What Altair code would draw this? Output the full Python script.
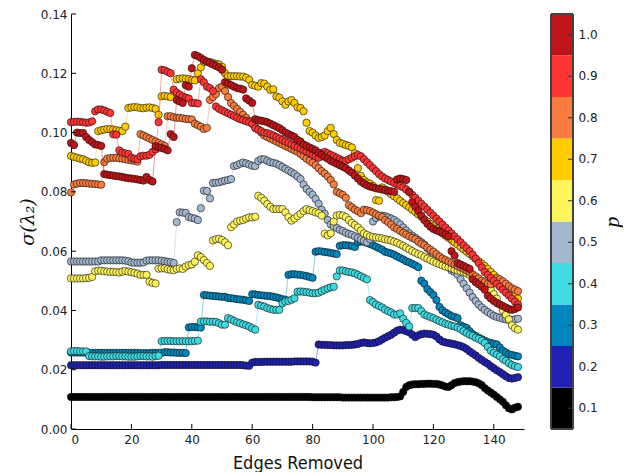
import altair as alt
import pandas as pd

# ---------------- data (values in units of 1e-4) ----------------
P_LABELS = ["0.1", "0.2", "0.3", "0.4", "0.5", "0.6", "0.7", "0.8", "0.9", "1.0"]
COLORS = ["#000000", "#2121b3", "#0087bd", "#3fdbe3", "#a3b7cf",
          "#fff45c", "#ffcc00", "#f77c3d", "#ff3535", "#bf1418"]

S01 = [108, 108, 108, 108, 108, 108, 108, 108, 108, 108,
       108, 108, 108, 108, 108, 108, 108, 108, 108, 108,
       108, 108, 108, 108, 108, 108, 108, 108, 108, 108,
       108, 108, 108, 108, 108, 108, 108, 108, 108, 108,
       108, 108, 108, 108, 108, 108, 108, 108, 108, 108,
       108, 108, 108, 108, 108, 108, 108, 108, 108, 108,
       108, 108, 108, 108, 108, 108, 108, 108, 108, 108,
       108, 108, 108, 108, 108, 108, 108, 108, 108, 108,
       107, 107, 107, 107, 107, 107, 107, 107, 107, 107,
       106, 106, 106, 106, 106, 106, 106, 106, 106, 106,
       106, 106, 106, 106, 106, 106, 107, 107, 108, 110,
       125, 142, 148, 150, 151, 151, 152, 152, 153, 153,
       152, 152, 150, 147, 143, 142, 148, 155, 158, 160,
       161, 161, 161, 160, 158, 154, 148, 138, 130, 123,
       116, 108, 100, 92, 80, 70, 66, 72, 75]

S02 = [215, 215, 215, 215, 215, 215, 215, 215, 215, 215,
       215, 215, 215, 215, 215, 215, 215, 215, 215, 215,
       215, 215, 215, 215, 215, 215, 215, 215, 215, 215,
       216, 216, 216, 216, 216, 216, 216, 216, 216, 216,
       216, 216, 216, 216, 216, 216, 216, 216, 216, 216,
       216, 216, 216, 216, 216, 216, 216, 215, 214, 213,
       224, 226, 226, 226, 227, 227, 227, 227, 227, 227,
       227, 227, 227, 227, 228, 228, 228, 228, 228, 228,
       227, 224, 285, 284, 284, 283, 283, 282, 282, 282,
       282, 283, 283, 284, 285, 287, 290, 292, 290, 289,
       290, 292, 296, 302, 308, 313, 318, 325, 332, 335,
       334, 330, 326, 318, 310, 316, 320, 322, 321, 320,
       318, 312, 302, 295, 292, 290, 288, 286, 283, 280,
       276, 270, 262, 255, 248, 240, 233, 226, 220, 212,
       205, 198, 192, 185, 178, 172, 170, 172, 175]

S03 = [258, 258, 258, 258, 258, 258, 257, 257, 257, 257,
       257, 257, 257, 257, 257, 257, 257, 257, 257, 257,
       257, 257, 257, 256, 256, 256, 256, 257, 257, 257,
       257, 259, 259, 258, 258, 257, 257, 257, 256, 343,
       344, 344, 343, 342, 452, 451, 450, 449, 448, 447,
       446, 446, 442, 441, 440, 438, 437, 436, 434, 432,
       455, 454, 452, 451, 450, 449, 448, 446, 444, 441,
       438, 436, 520, 522, 522, 521, 520, 518, 516, 513,
       510, 598, 600, 599, 597, 596, 594, 592, 590, 618,
       620, 620, 619, 617, 614, 630, 632, 632, 628, 624,
       620, 615, 610, 605, 598, 595, 592, 588, 582, 577,
       572, 566, 562, 557, 552, 546, 500, 490, 472, 462,
       452, 435, 412, 400, 393, 387, 381, 378, 374, 350,
       345, 341, 330, 320, 314, 308, 303, 298, 293, 290,
       288, 285, 275, 264, 258, 252, 250, 247, 245]

S04 = [262, 263, 263, 262, 262, 262, 246, 245, 245, 245,
       244, 244, 245, 245, 245, 246, 246, 245, 245, 244,
       244, 244, 245, 246, 246, 245, 245, 244, 246, 247,
       296, 297, 297, 297, 296, 296, 296, 296, 296, 296,
       296, 297, 298, 362, 363, 363, 362, 362, 361, 357,
       352, 352, 374, 370, 365, 360, 357, 353, 350, 346,
       340, 335, 419, 416, 413, 408, 405, 402, 402, 402,
       424, 430, 432, 436, 441, 463, 464, 463, 462, 460,
       458, 458, 460, 465, 470, 474, 478, 480, 515, 535,
       535, 532, 530, 528, 525, 520, 515, 510, 505, 435,
       428, 420, 415, 410, 403, 398, 393, 386, 386, 390,
       372, 358, 346, 408, 408, 408, 398, 386, 382, 378,
       374, 369, 364, 360, 355, 352, 348, 346, 342, 337,
       330, 324, 318, 314, 308, 304, 298, 290, 277, 264,
       257, 251, 245, 236, 230, 222, 216, 212, 209]

S05 = [565, 565, 565, 565, 565, 565, 565, 565, 565, 565,
       569, 569, 569, 569, 569, 569, 569, 569, 568, 566,
       562, 561, 561, 561, 562, 568, 569, 569, 569, 569,
       568, 566, 564, 563, 560, 698, 731, 730, 729, 715,
       712, 710, 705, 745, 804, 803, 778, 830, 831, 832,
       835, 838, 840, 843, 887, 890, 895, 899, 896, 892,
       888, 887, 904, 910, 910, 905, 900, 898, 895, 890,
       884, 878, 872, 866, 860, 852, 843, 825, 810, 800,
       790, 776, 760, 740, 726, 705, 690, 685, 678, 672,
       668, 662, 658, 655, 650, 645, 640, 635, 630, 640,
       700, 712, 718, 720, 718, 714, 710, 705, 698, 690,
       680, 670, 660, 652, 645, 638, 630, 622, 610, 600,
       590, 580, 575, 565, 555, 545, 535, 530, 520, 505,
       490, 475, 460, 445, 432, 420, 410, 402, 395, 388,
       382, 378, 375, 372, 370, 368, 368, 370, 372]

S06 = [508, 508, 508, 508, 508, 509, 510, 513, 532, 534,
       534, 532, 531, 530, 530, 529, 528, 531, 533, 531,
       529, 527, 524, 520, 520, 520, 497, 493, 491, 541,
       542, 542, 539, 537, 536, 540, 542, 540, 548, 553,
       555, 564, 586, 580, 570, 560, 550, 636, 640, 642,
       638, 630, 620, 681, 690, 700, 703, 705, 710, 714,
       714, 716, 787, 780, 770, 759, 750, 742, 742, 742,
       742, 731, 715, 703, 710, 718, 726, 735, 742, 738,
       735, 731, 728, 720, 659, 653, 660, 700, 720, 722,
       720, 715, 705, 695, 688, 680, 670, 660, 655, 650,
       648, 646, 645, 643, 640, 638, 636, 632, 628, 623,
       618, 612, 606, 600, 595, 590, 586, 580, 575, 570,
       565, 560, 556, 552, 548, 545, 542, 538, 535, 532,
       530, 525, 520, 515, 508, 500, 492, 486, 480, 470,
       455, 440, 420, 400, 385, 370, 350, 340, 335]

S07 = [921, 918, 915, 912, 910, 905, 900, 898, 899, 1005,
       1008, 1010, 1012, 1012, 1010, 1008, 1006, 1005, 1020, 1083,
       1085, 1086, 1085, 1083, 1082, 1084, 1085, 1083, 1080, 1060,
       1122, 1124, 1122, 1120, 1140, 1180, 1182, 1183, 1182, 1180,
       1178, 1176, 1200, 1220, 1239, 1240, 1238, 1235, 1232, 1230,
       1222, 1200, 1190, 1190, 1190, 1190, 1189, 1189, 1185, 1178,
       1161, 1158, 1155, 1167, 1165, 1155, 1144, 1146, 1122, 1118,
       1105, 1094, 1105, 1110, 1100, 1085, 1083, 1072, 1033, 1005,
       1000, 990, 982, 985, 990, 1005, 1016, 995, 975, 965,
       962, 958, 955, 950, 930, 880, 854, 840, 832, 828,
       820, 772, 770, 815, 808, 800, 792, 785, 778, 770,
       762, 755, 748, 740, 732, 724, 716, 708, 700, 692,
       684, 676, 668, 660, 652, 645, 638, 630, 622, 614,
       606, 598, 590, 582, 574, 566, 558, 550, 540, 530,
       520, 508, 496, 486, 478, 470, 460, 450, 440]

S08 = [798, 825, 828, 830, 830, 829, 828, 827, 826, 825,
       824, 900, 912, 914, 915, 915, 913, 912, 910, 908,
       906, 905, 902, 995, 990, 985, 980, 975, 970, 965,
       960, 955, 1055, 1055, 1052, 1050, 1050, 1048, 1046, 1045,
       1044, 1030, 1025, 1020, 1012, 1016, 1110, 1120, 1130, 1150,
       1155, 1140, 1120, 1100, 1090, 1080, 1070, 1060, 1050, 1040,
       1030, 1020, 1010, 1000, 990, 985, 980, 975, 970, 965,
       960, 955, 950, 945, 940, 935, 928, 920, 912, 905,
       898, 890, 880, 870, 862, 852, 840, 825, 800, 795,
       790, 780, 755, 748, 740, 735, 728, 740, 738, 735,
       730, 725, 720, 715, 705, 698, 690, 680, 675, 668,
       662, 656, 650, 645, 640, 632, 625, 620, 612, 605,
       598, 590, 582, 575, 570, 565, 560, 555, 550, 545,
       540, 535, 530, 522, 515, 508, 500, 495, 490, 488,
       500, 510, 505, 498, 490, 482, 475, 470, 465]

S09 = [1035, 1036, 1037, 1036, 1035, 1033, 1034, 1038, 1072, 1078,
       1078, 1075, 1070, 1066, 994, 993, 940, 932, 930, 928,
       915, 912, 910, 920, 922, 922, 925, 935, 943, 1035,
       1212, 1210, 1205, 1200, 1145, 1135, 1128, 1122, 1118, 1115,
       1100, 1100, 1098, 1180, 1170, 1155, 1150, 1140, 1088, 1080,
       1075, 1070, 1065, 1060, 1055, 1050, 1045, 1042, 1038, 1035,
       1030, 1015, 1010, 1005, 1000, 998, 995, 990, 985, 980,
       975, 970, 965, 960, 955, 950, 945, 940, 935, 930,
       925, 920, 915, 930, 935, 930, 925, 920, 915, 910,
       905, 905, 910, 915, 920, 925, 920, 910, 900, 890,
       880, 870, 860, 852, 845, 840, 835, 830, 825, 820,
       815, 808, 800, 790, 780, 770, 760, 750, 740, 730,
       720, 710, 700, 690, 680, 670, 660, 650, 640, 630,
       620, 610, 600, 588, 575, 560, 545, 530, 520, 510,
       500, 490, 480, 470, 460, 450, 440, 430, 420]

S10 = [965, 958, 1000, 998, 999, 985, 975, 968, 960, 958,
       955, 860, 858, 856, 855, 853, 852, 850, 848, 846,
       845, 844, 842, 840, 838, 850, 840, 835, 954, 950,
       948, 945, 940, 995, 985, 1110, 1105, 1100, 1160, 1155,
       1217, 1262, 1258, 1252, 1245, 1239, 1235, 1230, 1225, 1220,
       1212, 1170, 1165, 1160, 1155, 1150, 1148, 1145, 1115, 1108,
       1100, 1045, 1042, 1040, 1038, 1035, 1030, 1025, 1020, 1015,
       1008, 1000, 995, 990, 985, 975, 970, 960, 955, 950,
       945, 940, 932, 925, 918, 912, 905, 900, 895, 890,
       885, 880, 872, 865, 855, 845, 835, 828, 822, 818,
       815, 812, 810, 808, 806, 804, 802, 800, 842, 845,
       843, 840, 800, 765, 750, 735, 720, 705, 692, 682,
       675, 670, 666, 662, 656, 650, 600, 585, 560, 555,
       550, 545, 540, 505, 495, 488, 480, 470, 450, 440,
       432, 425, 420, 415, 410, 405, 402, 405, 410]

SERIES = [S01, S02, S03, S04, S05, S06, S07, S08, S09, S10]

X_TICKS = [0, 20, 40, 60, 80, 100, 120, 140]
Y_TICKS = [0.0, 0.02, 0.04, 0.06, 0.08, 0.10, 0.12, 0.14]

# ---------------- table ----------------
rows = []
for k, s in enumerate(SERIES):
    for i, v in enumerate(s):
        rows.append({"x": i, "y": v / 10000.0, "k": k})
df = pd.DataFrame(rows)

W, H = 453, 415

xs = alt.Scale(domain=[0, 150], nice=False, zero=False)
ys = alt.Scale(domain=[0, 0.14], nice=False)

x_axis = alt.Axis(values=X_TICKS, ticks=False, grid=False, labelPadding=5,
                  domainColor="black", domainWidth=1,
                  labelFont="DejaVu Sans", labelFontSize=12, labelColor="#222",
                  title="Edges Removed",
                  titleFont="'Liberation Sans Narrow', 'DejaVu Sans Condensed', 'Open Sans', sans-serif",
                  titleFontSize=18, titleFontWeight="normal", titleColor="#111",
                  titlePadding=9)
y_axis = alt.Axis(values=Y_TICKS, format=".2f", ticks=False, grid=False,
                  labelPadding=4, domainColor="black", domainWidth=1,
                  labelFont="DejaVu Sans", labelFontSize=12, labelColor="#222",
                  title="σ(λ₂)", titleFont="DejaVu Serif", titleFontStyle="italic",
                  titleFontSize=19, titleFontWeight="normal", titleColor="#111",
                  titlePadding=3)

X = alt.X("x:Q", scale=xs, axis=x_axis)
Y = alt.Y("y:Q", scale=ys, axis=y_axis)

layers = []
for k, c in enumerate(COLORS):
    base = alt.Chart().transform_filter(alt.datum.k == k)
    layers.append(base.mark_line(color=c, strokeWidth=0.8, opacity=0.55).encode(x=X, y=Y))
    layers.append(base.mark_circle(size=54, color=c, stroke="#111", strokeWidth=0.6,
                                   opacity=1).encode(x=X, y=Y))

xt = alt.Chart(pd.DataFrame({"x": X_TICKS})).mark_rule(color="black", strokeWidth=1).encode(
    x=X, y=alt.value(H), y2=alt.value(H - 5))
yt = alt.Chart(pd.DataFrame({"y": Y_TICKS})).mark_rule(color="black", strokeWidth=1).encode(
    y=Y, x=alt.value(0), x2=alt.value(5))

main = alt.layer(*layers, xt, yt, data=df).properties(width=W, height=H)

# ---------------- colour bar ----------------
cb_df = pd.DataFrame({"lab": P_LABELS})
cb_scale = alt.Scale(domain=list(reversed(P_LABELS)), paddingInner=0, paddingOuter=0)
cb_axis = alt.Axis(orient="right", ticks=False, domain=False, labelPadding=5,
                   labelFont="DejaVu Sans", labelFontSize=12, labelColor="#222",
                   title="p", titleFont="Liberation Serif", titleFontStyle="italic",
                   titleFontWeight="normal", titleFontSize=22, titleAngle=270,
                   titleBaseline="top", titlePadding=4, titleColor="black")
CY = alt.Y("lab:O", scale=cb_scale, axis=cb_axis, sort=list(reversed(P_LABELS)))

rects = alt.Chart().mark_rect().encode(
    y=CY, x=alt.value(0), x2=alt.value(22),
    fill=alt.Fill("lab:N", scale=alt.Scale(domain=P_LABELS, range=COLORS), legend=None))
cticks = alt.Chart().mark_rule(color="#333", strokeWidth=1).encode(
    y=CY, x=alt.value(17), x2=alt.value(22))
outline = alt.Chart().mark_rect(fillOpacity=0, stroke="#444", strokeWidth=1).encode(
    x=alt.value(0), x2=alt.value(22), y=alt.value(0), y2=alt.value(H))

cbar = alt.layer(rects, cticks, outline, data=cb_df).properties(width=22, height=H)

chart = alt.hconcat(main, cbar, spacing=26).properties(
    padding={"left": 10, "top": 0, "right": 0, "bottom": 0},
    background="white"
).configure_view(strokeWidth=0)

chart.save("out.html", embed_options={"renderer": "svg", "actions": False})
